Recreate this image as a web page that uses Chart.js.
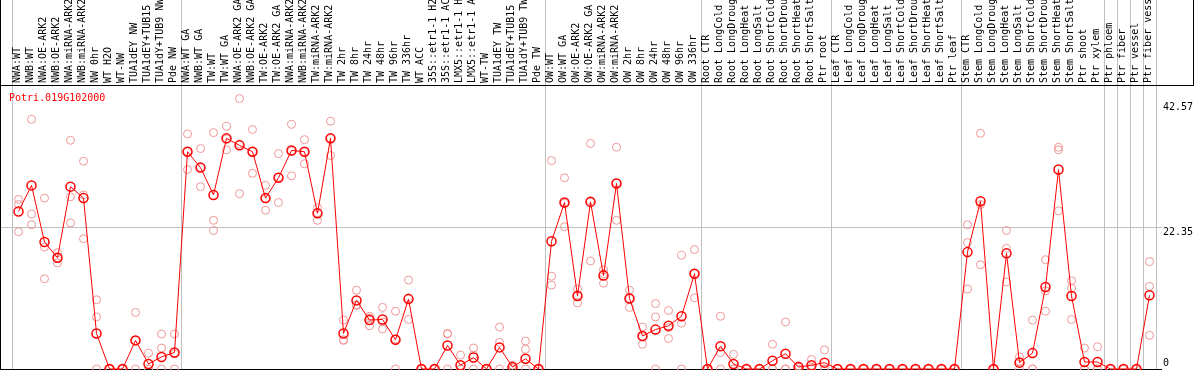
<!doctype html>
<html>
<head>
	<title>Potri.019G102000</title>
	<script src="https://cdn.jsdelivr.net/npm/chart.js"></script>
	<style>
	body { margin: 0; background: #fff; overflow: hidden; }
	canvas { display: block; }
	</style>
</head>
<body>
	<canvas id="expr-canvas" width="1194" height="370"></canvas>
	<script>
	var geneName = 'Potri.019G102000';

	var labels = [
		'NWA:WT', 'NWB:WT', 'NWA:OE-ARK2', 'NWB:OE-ARK2', 'NWA:miRNA-ARK2', 'NWB:miRNA-ARK2',
		'NW 0hr', 'WT H2O', 'WT-NW', 'TUA1dEY NW', 'TUA1dEY+TUB15 NW', 'TUA1dY+TUB9 NW', 'Pde NW',
		'NWA:WT GA', 'NWB:WT GA', 'TW:WT', 'TW:WT GA', 'NWA:OE-ARK2 GA', 'NWB:OE-ARK2 GA',
		'TW:OE-ARK2', 'TW:OE-ARK2 GA', 'NWA:miRNA-ARK2 GA', 'NWB:miRNA-ARK2 GA', 'TW:miRNA-ARK2',
		'TW:miRNA-ARK2 GA', 'TW 2hr', 'TW 8hr', 'TW 24hr', 'TW 48hr', 'TW 96hr', 'TW 336hr',
		'WT ACC', '35S::etr1-1 H2O', '35S::etr1-1 ACC', 'LMX5::etr1-1 H2O', 'LMX5::etr1-1 ACC',
		'WT-TW', 'TUA1dEY TW', 'TUA1dEY+TUB15 TW', 'TUA1dY+TUB9 TW', 'Pde TW',
		'OW:WT', 'OW:WT GA', 'OW:OE-ARK2', 'OW:OE-ARK2 GA', 'OW:miRNA-ARK2', 'OW:miRNA-ARK2 GA',
		'OW 2hr', 'OW 8hr', 'OW 24hr', 'OW 48hr', 'OW 96hr', 'OW 336hr',
		'Root CTR', 'Root LongCold', 'Root LongDrought', 'Root LongHeat', 'Root LongSalt',
		'Root ShortCold', 'Root ShortDrought', 'Root ShortHeat', 'Root ShortSalt', 'Ptr root',
		'Leaf CTR', 'Leaf LongCold', 'Leaf LongDrought', 'Leaf LongHeat', 'Leaf LongSalt',
		'Leaf ShortCold', 'Leaf ShortDrought', 'Leaf ShortHeat', 'Leaf ShortSalt', 'Ptr leaf',
		'Stem CTR', 'Stem LongCold', 'Stem LongDrought', 'Stem LongHeat', 'Stem LongSalt',
		'Stem ShortCold', 'Stem ShortDrought', 'Stem ShortHeat', 'Stem ShortSalt', 'Ptr shoot',
		'Ptr xylem', 'Ptr phloem', 'Ptr fiber', 'Ptr vessel', 'Ptr fiber vessel'
	];

	var meanValues = [
		24.8, 28.9, 20.0, 17.5, 28.7, 26.9, 5.6, 0, 0, 4.5, 0.8, 1.9, 2.6,
		34.2, 31.7, 27.4, 36.3, 35.2, 34.2, 26.9, 30.1, 34.4, 34.2, 24.5, 36.3,
		5.6, 10.8, 7.7, 7.8, 4.6, 11.0, 0, 0, 3.7, 0.6, 1.8, 0, 3.4, 0.3, 1.6, 0,
		20.1, 26.2, 11.5, 26.3, 14.7, 29.2, 11.1, 5.2, 6.2, 6.8, 8.3, 15.0,
		0, 3.6, 0.8, 0, 0, 1.3, 2.4, 0.3, 0.6, 1.0,
		0, 0, 0, 0, 0, 0, 0, 0, 0, 0,
		18.4, 26.4, 0, 18.2, 1.0, 2.5, 12.9, 31.4, 11.5, 1.1,
		1.1, 0, 0, 0, 11.6
	];

	var rep1 = [
		26.7, 39.3, 26.9, 18.3, 36.0, 32.7, 10.9, 0, 0, 8.9, 2.5, 5.5, 5.5,
		37.0, 34.7, 37.2, 38.2, 42.57, 37.7, 28.9, 33.9, 38.5, 36.1, 25.4, 39.0,
		7.7, 12.4, 8.3, 9.7, 9.1, 14.0, 0, 0, 5.6, 2.2, 3.3, 0, 6.6, 0.6, 4.4, 0,
		32.8, 30.1, 12.6, 35.5, 15.6, 34.9, 12.4, 6.6, 10.3, 9.2, 17.9, 18.8,
		0, 8.3, 2.3, 0, 0, 3.9, 7.4, 0.5, 1.5, 3.0,
		0, 0, 0, 0, 0, 0, 0, 0, 0, 0,
		22.7, 37.1, 0, 21.8, 1.9, 7.7, 17.2, 34.9, 13.9, 3.3,
		3.5, 0, 0, 0, 16.9
	];

	var rep2 = [
		25.9, 24.4, 19.2, 17.5, 27.1, 27.4, 8.2, 0, 0, 4.5, 0, 3.3, 2.4,
		34.2, 31.7, 23.4, 36.2, 35.4, 34.2, 26.8, 30.2, 34.3, 34.2, 24.6, 36.3,
		4.6, 10.1, 8.0, 7.4, 4.7, 11.2, 0, 0, 5.5, 0, 2.2, 0, 4.2, 0.2, 3.1, 0,
		14.6, 26.1, 11.6, 26.5, 15.0, 29.3, 11.1, 5.1, 8.2, 6.5, 7.2, 15.0,
		0, 2.6, 0, 0, 0, 0, 0, 0.3, 0.3, 0,
		0, 0, 0, 0, 0, 0, 0, 0, 0, 0,
		19.9, 25.9, 0, 19.0, 1.2, 0, 12.3, 34.5, 12.7, 0,
		0, 0, 0, 0, 13.0
	];

	var rep3 = [
		21.6, 22.7, 14.2, 16.7, 23.0, 20.5, 0, 0, 0, 0, 0, 0, 0,
		31.4, 28.7, 21.8, 34.5, 27.6, 30.8, 25.0, 26.2, 30.4, 32.3, 23.4, 33.6,
		4.5, 10.0, 6.8, 6.3, 0, 7.8, 0, 0, 0, 0, 0, 0, 0, 0, 0, 0,
		13.2, 22.4, 10.4, 17.0, 13.5, 23.4, 9.7, 3.9, 0, 4.8, 0, 11.2,
		0, 0, 0, 0, 0, 0, 0, 0, 0, 0,
		0, 0, 0, 0, 0, 0, 0, 0, 0, 0,
		12.6, 16.4, 0, 13.7, 0, 0, 9.1, 24.9, 7.8, 0,
		0, 0, 0, 0, 5.3
	];

	var yMax = 44.70;
	var yTicks = [0, 22.35, 42.57];
	// grid lines sit before these category indexes (88 = after the last one)
	var groupLines = [0, 13, 41, 53, 63, 73, 84, 85, 86, 87, 88];

	var monoFont = 'DejaVu Sans Mono';

	function xGridColor(ctx) {
		if (ctx.type !== 'tick') return '#c0c0c0';
		return groupLines.indexOf(ctx.index) >= 0 ? '#c0c0c0' : 'rgba(0,0,0,0)';
	}

	function yGridColor(ctx) {
		if (!ctx.tick) return 'rgba(0,0,0,0)';
		if (ctx.tick.value === 0) return '#000';
		if (ctx.tick.value === 22.35) return '#c0c0c0';
		return 'rgba(0,0,0,0)';
	}

	function setTicks(scale) {
		scale.ticks = yTicks.map(function(v) { return { value: v }; });
	}

	function repSet(values) {
		return {
			type: 'line',
			data: values,
			showLine: false,
			pointRadius: 4,
			pointBorderWidth: 1,
			pointBorderColor: '#ee9696',
			pointBackgroundColor: 'rgba(0,0,0,0)',
			clip: false
		};
	}

	var decor = {
		id: 'decor',
		afterDraw: function(chart) {
			var c = chart.ctx;
			c.save();
			c.strokeStyle = '#000';
			c.lineWidth = 1;
			c.beginPath();
			c.moveTo(0.5, 0); c.lineTo(0.5, 370);
			c.moveTo(0, 85.5); c.lineTo(1194, 85.5);
			c.moveTo(1193.5, 0); c.lineTo(1193.5, 85);
			c.stroke();
			c.fillStyle = '#ff0000';
			c.font = '10px "' + monoFont + '"';
			c.textBaseline = 'alphabetic';
			c.fillText(geneName, 9, 101);
			c.restore();
		}
	};

	var exprConfig = {
		type: 'line',
		data: {
			labels: labels,
			datasets: [
				{
					data: meanValues,
					borderColor: '#ff0000',
					borderWidth: 1,
					pointRadius: 4.5,
					pointBorderWidth: 1.5,
					pointBorderColor: '#ff0000',
					pointBackgroundColor: 'rgba(0,0,0,0)',
					tension: 0,
					clip: false
				},
				repSet(rep1),
				repSet(rep2),
				repSet(rep3)
			]
		},
		options: {
			responsive: false,
			animation: false,
			layout: { autoPadding: false, padding: { top: 0, left: 0, right: 0, bottom: 1 } },
			plugins: { legend: { display: false }, tooltip: { enabled: false } },
			scales: {
				x: {
					position: 'top',
					offset: true,
					afterFit: function(s) { s.height = 85; s.paddingLeft = 0; s.paddingRight = 0; },
					grid: { offset: true, color: xGridColor, tickLength: 85, lineWidth: 1 },
					border: { display: false },
					ticks: {
						autoSkip: false, minRotation: 90, maxRotation: 90, padding: -83,
						labelOffset: 11,
						color: '#000', font: { family: monoFont, size: 10 }
					}
				},
				y: {
					position: 'right',
					min: 0, max: yMax,
					afterBuildTicks: setTicks,
					afterFit: function(s) { s.width = 38; s.paddingTop = 0; s.paddingBottom = 0; },
					grid: { color: yGridColor, tickLength: 6 },
					border: { display: false },
					ticks: {
						align: 'start', padding: 1, color: '#000',
						font: function(ctx) {
							var top = ctx.tick && ctx.tick.value === 42.57;
							return { family: monoFont, size: 10, lineHeight: top ? '8px' : '11px' };
						},
						callback: function(v) {
							if (v === 0) return ['0', '', ''];
							if (v === 42.57) return ['', v.toFixed(2)];
							return v.toFixed(2);
						}
					}
				},
				y2: {
					position: 'left',
					min: 0, max: yMax,
					afterBuildTicks: setTicks,
					afterFit: function(s) { s.width = 12; s.paddingTop = 0; s.paddingBottom = 0; },
					grid: { drawOnChartArea: false, color: yGridColor, tickLength: 12 },
					border: { display: false },
					ticks: { display: false }
				}
			}
		},
		plugins: [decor]
	};

	window.onload = function() {
		var ctx = document.getElementById('expr-canvas').getContext('2d');
		window.exprChart = new Chart(ctx, exprConfig);
	};
	</script>
</body>
</html>
